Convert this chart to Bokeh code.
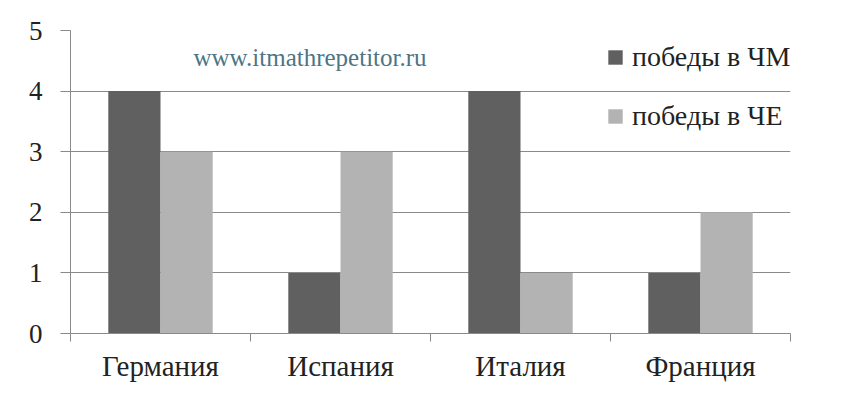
from bokeh.plotting import figure
from bokeh.models import (ColumnDataSource, Legend, LegendItem, Label, FixedTicker,
                          LinearAxis)
from bokeh.transform import dodge
from bokeh.embed import file_html
from bokeh.resources import INLINE

countries = ["Германия", "Испания", "Италия", "Франция"]
wc_wins = [4, 1, 4, 1]
euro_wins = [3, 3, 1, 2]
series_names = ["победы в ЧМ", "победы в ЧЕ"]
y_ticks = [0, 1, 2, 3, 4, 5]

n = len(countries)
centers = [i + 0.5 for i in range(n)]
edge_ticks = list(range(n + 1))

src = ColumnDataSource(dict(x=centers, country=countries, wc=wc_wins, euro=euro_wins))

p = figure(x_range=(0, n), y_range=(0, 5), width=831, height=384,
           output_backend="svg", toolbar_location=None, x_axis_location=None,
           min_border_left=70, min_border_right=41, min_border_top=30, min_border_bottom=50)
p.outline_line_color = None
p.background_fill_color = "white"
p.border_fill_color = "white"

r1 = p.vbar(x=dodge("x", -0.145), top="wc", width=0.29, source=src,
            fill_color="#606060", line_color=None)
r2 = p.vbar(x=dodge("x", 0.145), top="euro", width=0.29, source=src,
            fill_color="#b3b3b3", line_color=None)

p.yaxis.ticker = FixedTicker(ticks=y_ticks)
p.yaxis.minor_tick_line_color = None
p.yaxis.major_tick_out = 10
p.yaxis.major_tick_in = 0
p.yaxis.axis_line_color = "#8a8a8a"
p.yaxis.major_tick_line_color = "#8a8a8a"
p.yaxis.major_label_text_font = "Liberation Serif"
p.yaxis.major_label_text_font_size = "27px"
p.yaxis.major_label_text_color = "#222222"
p.yaxis.major_label_standoff = 18

cat_axis = LinearAxis(ticker=FixedTicker(ticks=centers, minor_ticks=edge_ticks),
                      major_label_overrides={c: name for c, name in zip(centers, countries)},
                      axis_line_color="#8a8a8a",
                      major_tick_line_color=None, major_tick_out=0, major_tick_in=0,
                      minor_tick_line_color="#8a8a8a", minor_tick_out=8, minor_tick_in=0,
                      major_label_text_font="Liberation Serif",
                      major_label_text_font_size="29px",
                      major_label_text_color="#222222",
                      major_label_standoff=8)
p.add_layout(cat_axis, "below")

p.xgrid.grid_line_color = None
p.ygrid.grid_line_color = "#8a8a8a"
p.ygrid.grid_line_width = 1

legend = Legend(items=[LegendItem(label=series_names[0], renderers=[r1]),
                       LegendItem(label=series_names[1], renderers=[r2])],
                location=(536, 201), orientation="vertical",
                background_fill_alpha=0, border_line_color=None,
                label_text_font="Liberation Serif", label_text_font_size="28px",
                label_text_color="#222222",
                glyph_width=18, glyph_height=18, label_standoff=8, spacing=27,
                padding=0, margin=0)
p.add_layout(legend, "center")

p.add_layout(Label(x=123, y=263, x_units="screen", y_units="screen",
                   text="www.itmathrepetitor.ru", text_font="Liberation Serif",
                   text_font_size="25px", text_color="#4d7585"))

open("out.html", "w").write(file_html(p, INLINE))
